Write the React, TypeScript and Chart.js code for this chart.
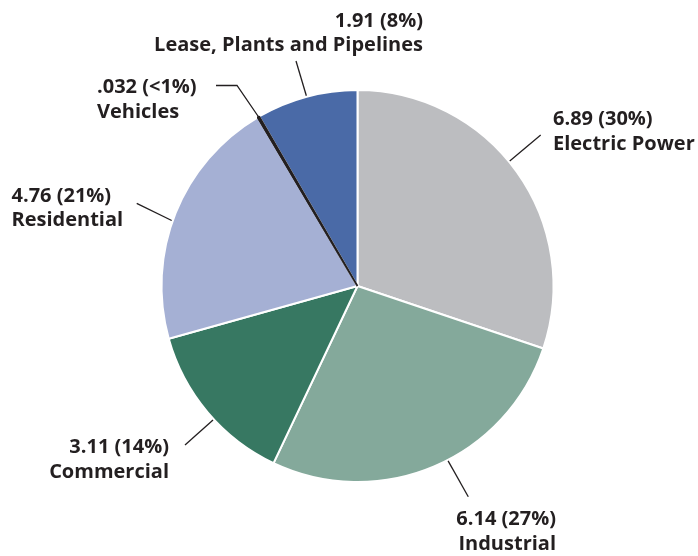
import React, { useEffect, useRef } from "react";
import { Chart, registerables } from "chart.js";

Chart.register(...registerables);

const categories = [
  "Electric Power",
  "Industrial",
  "Commercial",
  "Residential",
  "Vehicles",
  "Lease, Plants and Pipelines",
];
const values = [6.89, 6.14, 3.11, 4.76, 0.032, 1.91];
const colors = ["#bcbdc0", "#84a99b", "#377862", "#a5b0d4", "#231f20", "#4a6aa7"];
const borderColors = ["#ffffff", "#ffffff", "#ffffff", "#ffffff", "#231f20", "#ffffff"];
const borderWidths = [2, 2, 2, 2, 1.8, 2];

// label layout (annotation placement only)
const labelLayout = [
  { x: 553, y: 125, align: "left", frac: 0.466, path: [[540.7, 135]] },
  { x: 556, y: 525, align: "right", frac: 0.455, path: [[468.3, 496.7]] },
  { x: 169, y: 453, align: "right", frac: 0.445, path: [[185, 445]] },
  { x: 11.5, y: 201.5, align: "left", frac: 0.467, path: [[136.7, 203.3]] },
  { x: 97, y: 93, align: "left", frac: 0.5, path: [[237, 85.5], [216, 85.5]] },
  { x: 423, y: 26.5, align: "right", frac: 0.5, path: [[296, 61]] },
];

const FONT = "bold 20px 'Open Sans'";
const LINE_GAP = 24.5;

function fmtValue(v: number): string {
  if (v < 0.1) return String(v).replace(/^0/, "");
  return v.toFixed(2);
}

export default function App() {
  const ref = useRef<HTMLCanvasElement | null>(null);

  useEffect(() => {
    if (!ref.current) return;
    const total = values.reduce((a, b) => a + b, 0);

    const labelPlugin = {
      id: "outerLabels",
      afterDatasetsDraw(chart: any) {
        const ctx = chart.ctx as CanvasRenderingContext2D;
        const meta = chart.getDatasetMeta(0);
        // redraw the thin vehicles slice on top
        const vIdx = categories.indexOf("Vehicles");
        if (meta.data[vIdx]) meta.data[vIdx].draw(ctx);

        ctx.save();
        meta.data.forEach((arc: any, i: number) => {
          const p = arc.getProps(["x", "y", "startAngle", "endAngle", "outerRadius"], true);
          const L = labelLayout[i];
          const a = p.startAngle + L.frac * (p.endAngle - p.startAngle);
          const r = p.outerRadius + 1;
          ctx.beginPath();
          ctx.moveTo(p.x + Math.cos(a) * r, p.y + Math.sin(a) * r);
          L.path.forEach((pt) => ctx.lineTo(pt[0], pt[1]));
          ctx.strokeStyle = "#231f20";
          ctx.lineWidth = 1.3;
          ctx.stroke();

          const pct = (values[i] / total) * 100;
          const pctStr = pct < 1 ? "<1%" : Math.round(pct) + "%";
          const line1 = `${fmtValue(values[i])} (${pctStr})`;
          ctx.font = FONT;
          ctx.fillStyle = "#231f20";
          ctx.textAlign = L.align as CanvasTextAlign;
          ctx.textBaseline = "alphabetic";
          ctx.fillText(line1, L.x, L.y);
          ctx.fillText(categories[i], L.x, L.y + LINE_GAP);
        });
        ctx.restore();
      },
    };

    const chart = new Chart(ref.current, {
      type: "pie",
      data: {
        labels: categories,
        datasets: [
          {
            data: values,
            backgroundColor: colors,
            borderColor: borderColors,
            borderWidth: borderWidths,
            radius: 196,
          } as any,
        ],
      },
      options: {
        responsive: false,
        animation: false,
        events: [],
        layout: { padding: { left: 17, top: 16, right: 0, bottom: 0 } },
        plugins: {
          legend: { display: false },
          tooltip: { enabled: false },
        },
      },
      plugins: [labelPlugin],
    });
    return () => chart.destroy();
  }, []);

  return (
    <div style={{ position: "absolute", left: 0, top: 0, width: 698, height: 556, background: "#fff" }}>
      <canvas ref={ref} width={698} height={556} />
    </div>
  );
}
